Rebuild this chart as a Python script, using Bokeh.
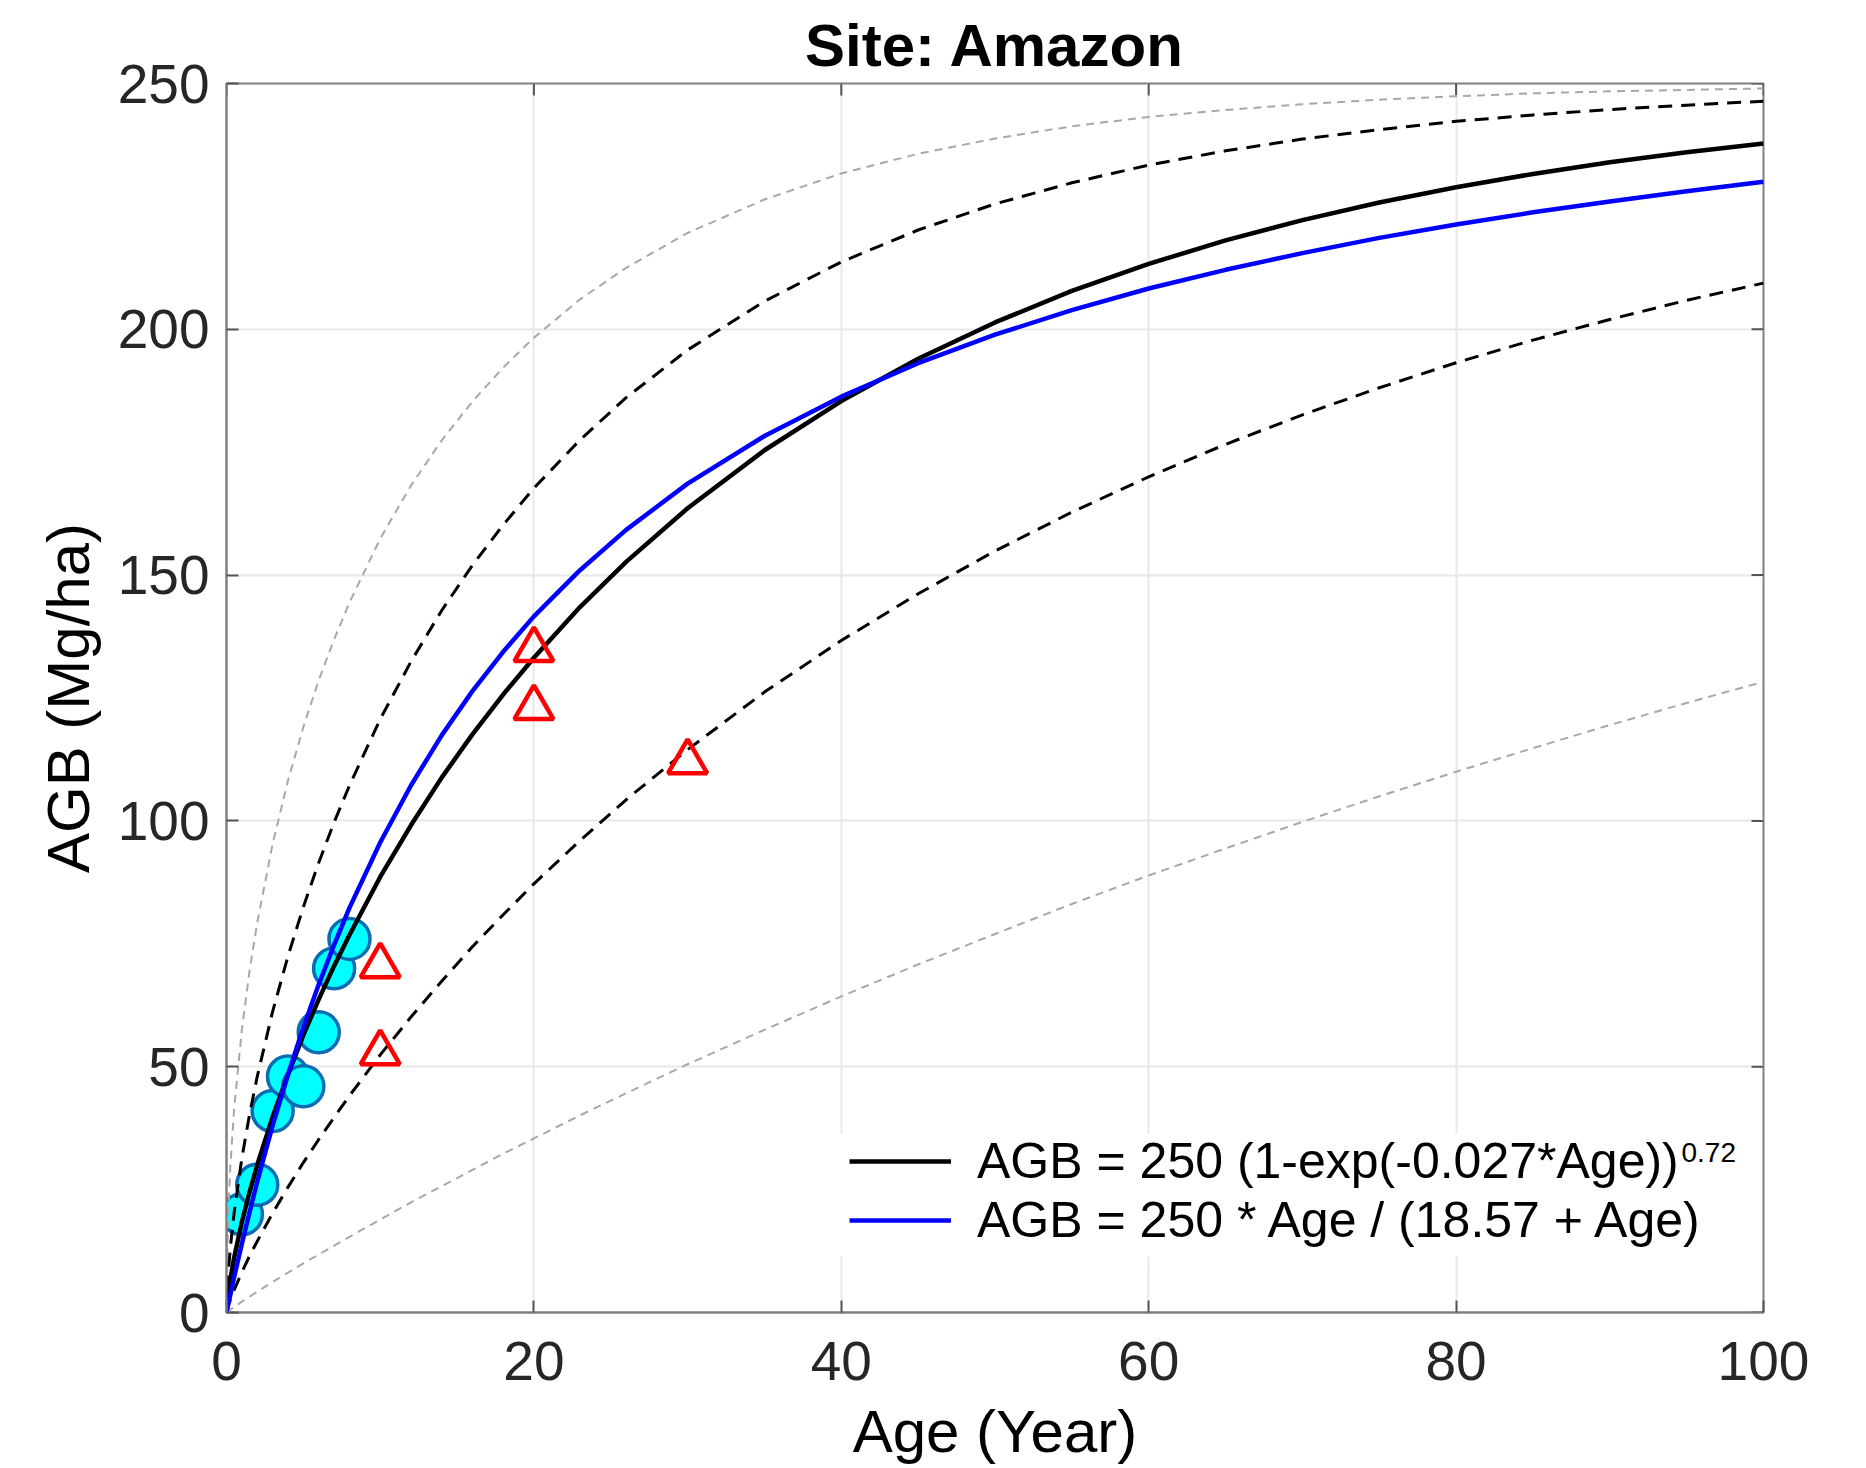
import math
from bokeh.plotting import figure
from bokeh.models import Range1d, Legend, LegendItem, Label, FixedTicker, BoxAnnotation
from bokeh.embed import file_html
from bokeh.resources import INLINE

ages = [0, 0.1, 0.25, 0.5, 1, 1.5, 2, 3, 4, 5, 6, 7, 8, 10, 12, 14, 16, 18, 20, 23, 26, 30,
        35, 40, 45, 50, 55, 60, 65, 70, 75, 80, 85, 90, 95, 100]
# Black solid fit
agb_black = [0.0, 3.5, 6.8, 11.2, 18.4, 24.5, 30.0, 39.8, 48.4, 56.4, 63.7, 70.5, 76.8, 88.6,
             99.1, 108.8, 117.6, 125.7, 133.2, 143.5, 152.7, 163.6, 175.4, 185.4, 194.0, 201.4,
             207.8, 213.3, 218.1, 222.2, 225.8, 228.9, 231.6, 234.0, 236.0, 237.8]
# Blue solid fit
agb_blue = [0.0, 1.5, 3.6, 7.2, 14.0, 20.4, 26.6, 38.0, 48.4, 58.0, 66.7, 74.8, 82.3, 95.6,
            107.2, 117.4, 126.4, 134.4, 141.6, 151.0, 159.2, 168.6, 178.3, 186.3, 193.1, 198.9,
            203.9, 208.3, 212.1, 215.5, 218.6, 221.3, 223.8, 226.0, 228.1, 230.0]
# Upper / lower dashed black curves
agb_up_dash = [0.0, 7.4, 13.2, 20.4, 31.4, 40.3, 48.0, 61.2, 72.5, 82.5, 91.5, 99.7, 107.2,
               120.7, 132.4, 142.8, 152.0, 160.2, 167.7, 177.5, 186.1, 195.8, 205.7, 213.7,
               220.2, 225.5, 229.8, 233.4, 236.3, 238.7, 240.6, 242.3, 243.6, 244.7, 245.6, 246.4]
agb_lo_dash = [0.0, 1.2, 2.6, 4.6, 8.2, 11.5, 14.5, 20.2, 25.5, 30.5, 35.2, 39.7, 44.1, 52.4,
               60.1, 67.4, 74.4, 80.9, 87.2, 96.0, 104.3, 114.5, 126.2, 136.7, 146.2, 154.9,
               162.8, 170.0, 176.6, 182.6, 188.1, 193.2, 197.8, 202.0, 205.9, 209.4]
# Upper / lower dotted grey curves
agb_up_dot = [0.0, 19.3, 29.8, 41.5, 57.5, 69.5, 79.3, 95.3, 108.2, 119.1, 128.6, 136.9, 144.4,
              157.4, 168.2, 177.4, 185.3, 192.2, 198.3, 206.1, 212.5, 219.6, 226.4, 231.7,
              235.7, 238.8, 241.3, 243.2, 244.6, 245.8, 246.7, 247.4, 248.0, 248.4, 248.7, 249.0]
agb_lo_dot = [0.0, 0.2, 0.6, 1.1, 2.2, 3.2, 4.2, 6.2, 8.1, 10.0, 11.8, 13.6, 15.4, 18.9, 22.4,
              25.7, 29.0, 32.3, 35.4, 40.1, 44.6, 50.5, 57.5, 64.3, 70.8, 77.0, 83.1, 88.9,
              94.4, 99.8, 105.0, 110.0, 114.8, 119.5, 124.0, 128.3]

# Observations
obs_age = [1, 2, 3, 4, 5, 6, 7, 8]
obs_agb = [20, 26, 41, 48, 46, 57, 70, 76]
tri_age = [10, 10, 20, 20, 30]
tri_agb = [70.5, 52.8, 134.8, 123.0, 112.0]

x_ticks = [0, 20, 40, 60, 80, 100]
y_ticks = [0, 50, 100, 150, 200, 250]
legend_labels = ["AGB = 250 (1-exp(-0.027*Age))", "AGB = 250 * Age / (18.57 + Age)"]
legend_sup = "0.72"

FONT = "Liberation Sans"
X_MAX = x_ticks[-1]
Y_MAX = y_ticks[-1]
p = figure(width=1866, height=1468, x_range=Range1d(0, X_MAX), y_range=Range1d(0, Y_MAX),
           output_backend="svg", toolbar_location=None,
           min_border_left=226, min_border_right=103, min_border_top=83, min_border_bottom=156)
p.title.text = "Site: Amazon"
p.title.align = "center"
p.title.text_font = FONT
p.title.text_font_size = "60px"
p.title.text_font_style = "bold"
p.title.text_color = "black"
p.title.standoff = 10

xt = FixedTicker(ticks=x_ticks)
yt = FixedTicker(ticks=y_ticks)

for ax, ticker in ((p.xaxis[0], xt), (p.yaxis[0], yt)):
    ax.ticker = ticker
    ax.axis_line_color = "#808080"
    ax.axis_line_width = 2
    ax.major_tick_in = 12
    ax.major_tick_out = 0
    ax.major_tick_line_color = "#555555"
    ax.major_tick_line_width = 2
    ax.minor_tick_line_color = None
    ax.major_label_text_font = FONT
    ax.major_label_text_color = "#262626"
    ax.major_label_text_font_size = "55px"
    ax.axis_label_text_font = FONT
    ax.axis_label_text_color = "black"
    ax.axis_label_text_font_style = "normal"
    ax.axis_label_text_font_size = "60px"

p.xaxis[0].axis_label = "Age (Year)"
p.yaxis[0].axis_label = "AGB (Mg/ha)"
p.xaxis[0].major_label_standoff = 29
p.xaxis[0].axis_label_standoff = 15
p.yaxis[0].major_label_standoff = 17
p.yaxis[0].axis_label_standoff = 13

p.xgrid.ticker = xt
p.ygrid.ticker = yt
for g in (p.xgrid[0], p.ygrid[0]):
    g.grid_line_color = "#e8e8e8"
    g.grid_line_width = 2
p.outline_line_color = "#808080"
p.outline_line_width = 2
p.background_fill_color = "white"
p.border_fill_color = "white"

# white backing of the legend area (hides the grid lines there)
p.add_layout(BoxAnnotation(left=612, right=1519, bottom=56, top=179,
                           left_units="screen", right_units="screen",
                           bottom_units="screen", top_units="screen",
                           fill_color="white", fill_alpha=1.0, line_color=None,
                           level="underlay"))

# inward ticks on the top and right edges of the box (clipped to the frame)
p.scatter(x_ticks, [Y_MAX] * len(x_ticks), marker="dash", size=24, angle=math.pi / 2,
          line_color="#555555", line_width=2)
p.scatter([X_MAX] * len(y_ticks), y_ticks, marker="dash", size=24,
          line_color="#555555", line_width=2)

p.scatter(obs_age, obs_agb, marker="circle", size=41, fill_color="#00ffff",
          line_color="#0a6cb4", line_width=3.5)
p.line(ages, agb_up_dot, line_color="#a8a8a8", line_width=2, line_dash="8 6")
p.line(ages, agb_lo_dot, line_color="#a8a8a8", line_width=2, line_dash="8 6")
p.line(ages, agb_up_dash, line_color="black", line_width=3, line_dash="14 9")
p.line(ages, agb_lo_dash, line_color="black", line_width=3, line_dash="14 9")
r_black = p.line(ages, agb_black, line_color="black", line_width=4.5, line_join="round")
r_blue = p.line(ages, agb_blue, line_color="#0000ff", line_width=4.5, line_join="round")
p.scatter(tri_age, tri_agb, marker="triangle", size=39, fill_color=None,
          line_color="#ff0000", line_width=4.5)

legend = Legend(items=[LegendItem(label=legend_labels[0], renderers=[r_black]),
                       LegendItem(label=legend_labels[1], renderers=[r_blue])],
                location=(623, 63), label_text_font=FONT, label_text_font_size="50px",
                label_text_color="black", glyph_width=102, glyph_height=40, label_standoff=26,
                spacing=1, padding=10, margin=0, border_line_color=None,
                background_fill_alpha=0.0)
p.add_layout(legend)
p.add_layout(Label(x=1455, y=160, x_units="screen", y_units="screen", text=legend_sup,
                   text_font=FONT, text_font_size="28px", text_baseline="alphabetic",
                   text_align="left", text_color="black", level="overlay"))

open("out.html", "w").write(file_html(p, INLINE))
